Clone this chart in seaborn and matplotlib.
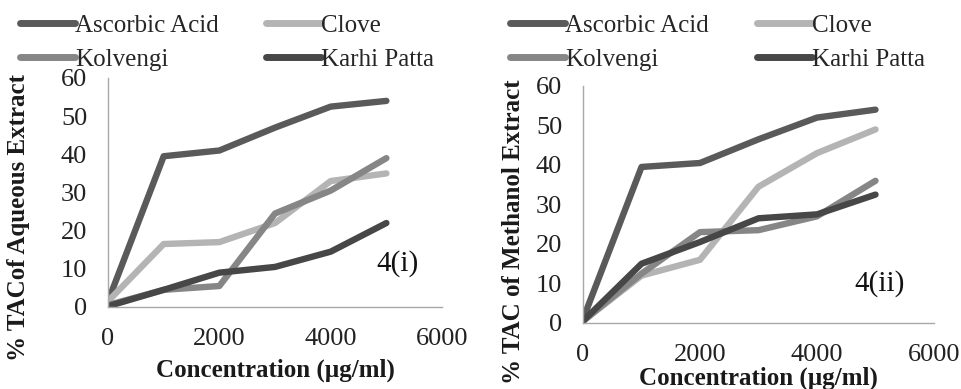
import matplotlib
matplotlib.use("Agg")
import matplotlib.pyplot as plt
import seaborn as sns
import pandas as pd

# concentration steps (ug/ml)
conc = [0, 1000, 2000, 3000, 4000, 5000]
names = ["Ascorbic Acid", "Clove", "Kolvengi", "Karhi Patta"]

# 4(i) aqueous extract
aq_ascorbic = [1.5, 39.5, 41, 47, 52.5, 54]
aq_clove = [1.5, 16.5, 17, 22, 33, 35]
aq_kolvengi = [0.5, 4.5, 5.5, 24.5, 30.5, 39]
aq_karhi = [0.2, 4.5, 9, 10.5, 14.5, 22]

# 4(ii) methanol extract
me_ascorbic = [1, 39.5, 40.5, 46.5, 52, 54]
me_clove = [0.5, 12, 16, 34.5, 43, 49]
me_kolvengi = [0.5, 12.5, 23, 23.5, 27, 36]
me_karhi = [0.5, 15, 20.5, 26.5, 27.5, 32.5]

colors = ["#5a5a5a", "#b4b4b4", "#868686", "#474747"]


def long_form(series):
    rows = []
    for name, vals in zip(names, series):
        for c, v in zip(conc, vals):
            rows.append({"conc": c, "tac": v, "extract": name})
    return pd.DataFrame(rows)


aqueous = long_form([aq_ascorbic, aq_clove, aq_kolvengi, aq_karhi])
methanol = long_form([me_ascorbic, me_clove, me_kolvengi, me_karhi])

sns.set_theme(style="white")
plt.rcParams["font.family"] = ["Liberation Serif", "DejaVu Serif"]

fig = plt.figure(figsize=(9.61, 3.89), dpi=100)
ax1 = fig.add_axes([0.1124, 0.2108, 0.3476, 0.5887])
ax2 = fig.add_axes([0.6067, 0.1697, 0.3652, 0.6093])

panels = [
    (ax1, aqueous, "% TACof Aqueous Extract", (0.021, 1 - 14 / 389)),
    (ax2, methanol, "% TAC of Methanol Extract", (0.531, 1 - 14 / 389)),
]

for ax, df, ylab, anchor in panels:
    sns.lineplot(data=df, x="conc", y="tac", hue="extract", hue_order=names,
                 palette=colors, lw=4.6, ax=ax, solid_capstyle="round",
                 solid_joinstyle="round")
    ax.set_xlim(0, 6000)
    ax.set_ylim(0, 60)
    ax.set_xticks([0, 2000, 4000, 6000])
    ax.set_yticks(range(0, 61, 10))
    ax.margins(0)
    for s in ["top", "right"]:
        ax.spines[s].set_visible(False)
    for s in ["left", "bottom"]:
        ax.spines[s].set_color("#a8a8a8")
        ax.spines[s].set_linewidth(1.0)
    ax.tick_params(axis="both", direction="out", length=5, width=1,
                   color="#a8a8a8", labelsize=19, labelcolor="#222222", pad=10)
    ax.set_xlabel("Concentration (\u00b5g/ml)", fontsize=18, fontweight="bold",
                  color="#1a1a1a")
    ax.set_ylabel(ylab, fontsize=18, fontweight="bold", color="#1a1a1a")
    handles, labels = ax.get_legend_handles_labels()
    for h in handles:
        h.set_linewidth(5)
        h.set_solid_capstyle("round")
    # legend fills columns first: put Ascorbic/Clove on the top row
    order = [0, 2, 1, 3]
    ax.legend([handles[i] for i in order], [labels[i] for i in order], ncol=2,
              frameon=False, fontsize=18, loc="upper left",
              bbox_to_anchor=anchor, bbox_transform=fig.transFigure,
              handlelength=2.2, handletextpad=0.0, columnspacing=1.9,
              labelspacing=0.47, borderpad=0, borderaxespad=0)

ax1.text(0.93, 0.13, "4(i)", transform=ax1.transAxes, fontsize=21,
         ha="right", va="bottom", color="#111111")
ax2.text(0.917, 0.11, "4(ii)", transform=ax2.transAxes, fontsize=21,
         ha="right", va="bottom", color="#111111")

ax1.yaxis.set_label_coords(-0.235, 0.39)
ax2.yaxis.set_label_coords(-0.165, 0.385)
ax1.xaxis.set_label_coords(0.5, -0.225)
ax2.xaxis.set_label_coords(0.5, -0.185)

fig.savefig("out.png", dpi=100)
